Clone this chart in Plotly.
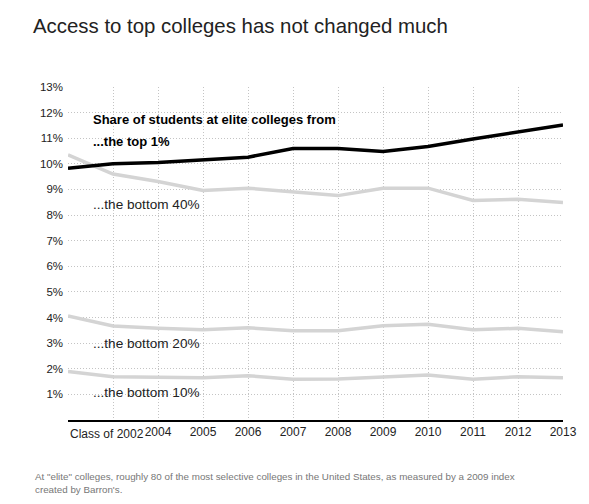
import plotly.graph_objects as go

# Data (share of students at elite colleges, %)
years = [2002, 2003, 2004, 2005, 2006, 2007, 2008, 2009, 2010, 2011, 2012, 2013]
top_1 = [9.83, 10.0, 10.05, 10.15, 10.26, 10.6, 10.6, 10.48, 10.68, 10.97, 11.23, 11.52]
bottom_40 = [10.35, 9.6, 9.31, 8.96, 9.05, 8.89, 8.76, 9.05, 9.05, 8.57, 8.62, 8.49]
bottom_20 = [4.06, 3.67, 3.58, 3.52, 3.6, 3.48, 3.48, 3.68, 3.74, 3.52, 3.58, 3.45]
bottom_10 = [1.89, 1.69, 1.67, 1.65, 1.73, 1.59, 1.6, 1.67, 1.76, 1.59, 1.69, 1.65]

x_tick_text = ["", "", "2004", "2005", "2006", "2007", "2008", "2009", "2010", "2011", "2012", "2013"]
y_ticks = list(range(1, 14))
y_tick_text = [f"{v}%" for v in y_ticks]

FONT = "Liberation Sans, Arial, sans-serif"
GRAY = "#d4d4d4"
GRID = "#c4c4c4"

fig = go.Figure()

# Gray series first, black on top
for series in [bottom_40, bottom_20, bottom_10]:
    fig.add_trace(go.Scatter(x=years, y=series, mode="lines",
                             line=dict(color=GRAY, width=3.5), hoverinfo="skip"))

fig.add_trace(go.Scatter(x=years, y=top_1, mode="lines",
                         line=dict(color="black", width=3.5), hoverinfo="skip"))

# Series labels
label_x = 2002.51
fig.add_annotation(x=label_x, y=11.72, text="<b>Share of students at elite colleges from</b>",
                   font=dict(size=13, color="black"))
fig.add_annotation(x=label_x, y=10.87, text="<b>...the top 1%</b>",
                   font=dict(size=13, color="black"))
fig.add_annotation(x=label_x, y=8.4, text="...the bottom 40%", font=dict(size=13.6, color="#222"))
fig.add_annotation(x=label_x, y=2.97, text="...the bottom 20%", font=dict(size=13.6, color="#222"))
fig.add_annotation(x=label_x, y=1.07, text="...the bottom 10%", font=dict(size=13.6, color="#222"))
fig.update_annotations(xanchor="left", yanchor="middle", showarrow=False)

# First x label, left aligned at the axis start
fig.add_annotation(x=2002, y=-0.042, yref="paper", xanchor="left", yanchor="middle",
                   text="Class of 2002", showarrow=False, font=dict(size=12, color="#222"))

# Footnote
fig.add_annotation(x=-0.0707, y=-0.148, xref="paper", yref="paper", xanchor="left", yanchor="top",
                   align="left", showarrow=False, font=dict(size=9.8, color="#777"),
                   text='At "elite" colleges, roughly 80 of the most selective colleges in the United States, '
                        'as measured by a 2009 index<br>created by Barron\'s.')

# page body has an 8px margin, so the figure is a bit smaller than the window
fig.update_layout(
    width=581,
    height=496,
    margin=dict(l=60, r=26, t=79, b=84),
    paper_bgcolor="white",
    plot_bgcolor="white",
    showlegend=False,
    font=dict(family=FONT, color="#222"),
    title=dict(text="Access to top colleges has not changed much", x=25 / 581, xanchor="left",
               xref="container", y=1 - 18 / 496, yanchor="middle", yref="container",
               font=dict(size=20.4, color="#222")),
)

fig.update_xaxes(range=[2002, 2013], tickvals=years, ticktext=x_tick_text,
                 showgrid=True, gridcolor=GRID, griddash="1px,2px", gridwidth=1,
                 showline=True, linecolor="black", linewidth=1.5, zeroline=False,
                 ticks="", tickfont=dict(size=12, color="#222"))
fig.update_yaxes(range=[0, 13], tickvals=y_ticks, ticktext=y_tick_text,
                 showgrid=True, gridcolor=GRID, griddash="1px,2px", gridwidth=1,
                 showline=False, zeroline=False, ticks="", ticklabelstandoff=4,
                 tickfont=dict(size=11.5, color="#222"))

fig.write_html("out.html")
